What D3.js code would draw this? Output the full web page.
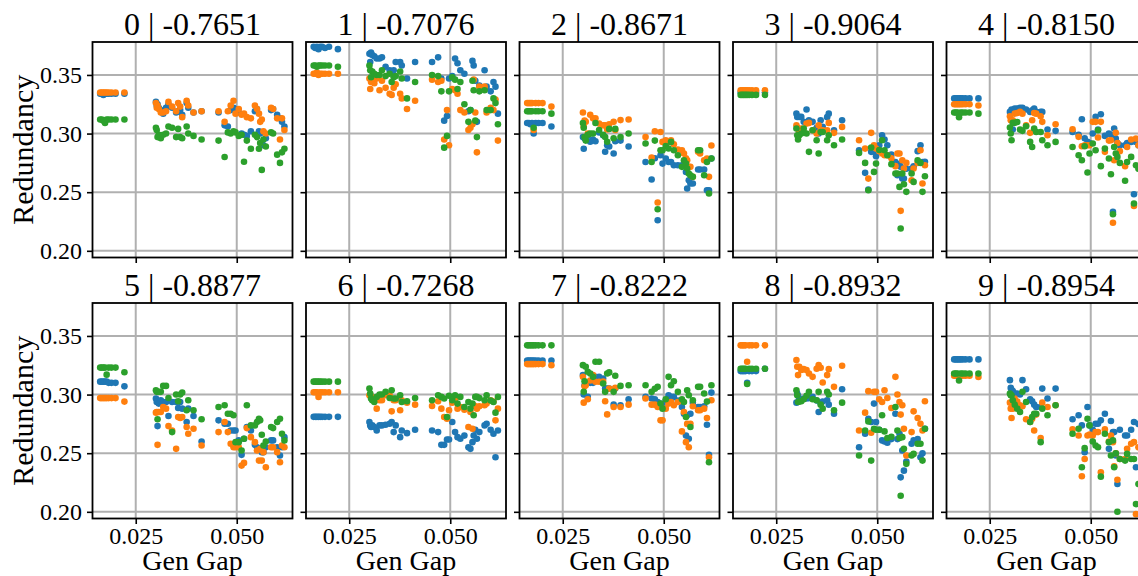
<!DOCTYPE html>
<html><head><meta charset="utf-8">
<script src="https://cdn.jsdelivr.net/npm/d3@7"></script>
<style>body{margin:0;background:#fff}svg{display:block}</style>
</head><body><div id="chart"></div>
<script>
// ---- data ----
const classes = [0,1,2,3,4,5,6,7,8,9];
const correlations = [-0.7651,-0.7076,-0.8671,-0.9064,-0.8150,-0.8877,-0.7268,-0.8222,-0.8932,-0.8954];
const xTicks = [0.025, 0.050];
const yTicks = [0.20, 0.25, 0.30, 0.35];
const seriesColors = ["#1f77b4","#ff7f0e","#2ca02c"];
// generalisation gap of each model (shared by all panels)
const genGap = [
 0.0162,0.0166,0.0170,0.0174,0.0178,0.0183,0.0190,0.0200,0.0222,
 0.0300,0.0302,0.0304,0.0307,0.0312,0.0318,0.0325,0.0331,0.0340,0.0350,0.0355,0.0360,0.0365,0.0376,0.0380,0.0393,0.0413,
 0.0455,0.0470,0.0478,0.0485,0.0492,0.0497,0.0505,0.0512,0.0518,0.0525,0.0535,0.0545,0.0550,0.0555,0.0558,0.0562,0.0566,0.0572,0.0585,0.0590,0.0600,0.0607,0.0612,0.0618];
// redundancy per class (rows) per model (cols)
const blueVals = [
 [.334,.334,.333,.334,.334,.334,.334,.334,.334, .327,.324,.325,.322,.320,.317,.322,.325,.322,.318,.319,.320,.316,.326,.322,.318,.319, .318,.307,.306,.320,.322,.321,.318,.300,.299,.298,.302,.319,.321,.302,.300,.292,.290,.296,.320,.321,.316,.313,.310,.306],
 [.374,.373,.374,.372,.374,.374,.373,.374,.372, .368,.361,.369,.367,.366,.364,.364,.365,.357,.354,.352,.354,.361,.361,.358,.347,.361, .361,.365,.347,.311,.315,.347,.349,.364,.360,.354,.351,.319,.320,.362,.358,.345,.310,.341,.354,.340,.336,.344,.340,.317],
 [.309,.309,.308,.309,.300,.309,.309,.309,.306, .297,.287,.296,.295,.298,.293,.295,.2935,.301,.2985,.2845,.290,.289,.283,.2935,.294,.289, .2758,.2608,.279,.2261,.2815,.2744,.2787,.2758,.2758,.273,.273,.273,.273,.2673,.2531,.2602,.2574,.2574,.2693,.2693,.2693,.2517,.2517,.2787],
 [.335,.335,.335,.335,.335,.335,.335,.335,.335, .317,.3142,.3043,.3142,.3142,.31,.3205,.3114,.31,.305,.300,.3114,.3057,.314,.317,.3028,.3114, .2858,.2665,.2523,.2844,.2844,.2807,.29,.2986,.295,.2901,.282,.2758,.2645,.274,.2716,.2616,.2616,.270,.2702,.272,.285,.2901,.2758,.276],
 [.330,.330,.330,.330,.330,.330,.330,.330,.330, .3185,.3185,.3205,.3034,.3213,.3213,.3219,.3219,.3205,.3185,.3199,.3213,.3185,.3185,.3185,.3034,.3023, .3014,.299,.3122,.296,.2929,.292,.300,.3142,.3034,.3165,.298,.300,.299,.2332,.3043,.2957,.292,.290,.290,.292,.2929,.2483,.2929,.290],
 [.311,.311,.311,.311,.311,.310,.310,.310,.307, .2966,.2937,.2731,.2923,.2951,.2937,.2937,.2817,.2937,.2937,.2886,.2937,.288,.2766,.288,.2817,.26, .278,.2751,.2751,.2694,.2694,.2694,.2609,.2486,.2623,.2723,.2694,.2571,.2551,.2537,.2537,.2509,.2509,.255,.2609,.2609,.2551,.248,.2551,.2637],
 [.281,.281,.281,.281,.281,.281,.281,.281,.281, .2766,.2737,.2723,.2737,.2723,.2694,.2737,.2737,.2743,.2751,.2766,.268,.2737,.2637,.2694,.2671,.27, .2694,.268,.2571,.2571,.2617,.2617,.2766,.268,.2637,.2623,.265,.2551,.2537,.2594,.2651,.27,.2623,.268,.2737,.2751,.27,.2666,.2466,.2694],
 [.329,.329,.329,.329,.329,.329,.329,.329,.329, .3166,.3,.308,.3094,.298,.31,.31,.3151,.3151,.3137,.3051,.3051,.3051,.2914,.3051,.2909,.296, .298,.2966,.296,.2937,.2923,.291,.295,.2994,.298,.298,.295,.2894,.2837,.2651,.2823,.2623,.2837,.293,.2894,.2894,.29,.2743,.2486,.3017],
 [.320,.320,.320,.320,.310,.320,.320,.320,.322, .2931,.3009,.299,.296,.2951,.2966,.2966,.297,.298,.295,.2851,.2923,.294,.2951,.2914,.2837,.3046, .2551,.2666,.2794,.2766,.2923,.2766,.27,.2609,.26,.2589,.262,.2837,.262,.2666,.2294,.2523,.2351,.2429,.258,.2609,.262,.2466,.25,.2709],
 [.330,.330,.330,.330,.330,.330,.330,.330,.330, .3123,.3057,.304,.3029,.3009,.3009,.3,.3123,.3046,.296,.2943,.2914,.2894,.2894,.3051,.2966,.3051, .2789,.2823,.2737,.2509,.2894,.2737,.27,.2751,.2751,.278,.2837,.2537,.2774,.268,.268,.248,.2237,.27,.2651,.2651,.27,.2766,.238,.275]
];
const orangeVals = [
 [.335,.335,.335,.335,.335,.335,.335,.335,.335, .326,.322,.324,.321,.318,.318,.319,.327,.323,.319,.326,.323,.314,.328,.324,.318,.319, .319,.310,.319,.324,.328,.317,.321,.316,.317,.314,.313,.324,.321,.317,.310,.312,.302,.300,.322,.321,.313,.295,.313,.303],
 [.351,.351,.352,.350,.351,.351,.351,.351,.351, .347,.338,.344,.345,.343,.347,.337,.345,.339,.334,.333,.339,.342,.334,.330,.321,.328, .346,.344,.345,.295,.320,.290,.338,.337,.334,.320,.318,.303,.305,.308,.346,.318,.284,.340,.340,.318,.322,.320,.329,.294],
 [.326,.326,.326,.326,.303,.326,.326,.326,.323, .318,.306,.311,.310,.300,.316,.313,.313,.3085,.307,.307,.3035,.308,.310,.303,.3115,.312, .297,.2795,.302,.2412,.3014,.2929,.2943,.2929,.2943,.2909,.2864,.2858,.283,.279,.2773,.2716,.2716,.2631,.2844,.283,.2773,.2787,.2631,.2898],
 [.337,.337,.337,.337,.337,.337,.337,.337,.337, .3071,.3043,.3043,.301,.3043,.3014,.3085,.3091,.3028,.3,.3071,.3028,.3028,.3028,.3091,.3006,.3057, .2943,.2872,.2616,.3006,.2901,.2872,.285,.283,.2815,.2815,.279,.2722,.283,.283,.2341,.2773,.2702,.275,.2602,.2702,.275,.2858,.2574,.273],
 [.325,.325,.325,.325,.325,.325,.325,.325,.324, .3148,.3114,.3114,.3114,.317,.3176,.3185,.317,.3071,.3006,.3114,.3176,.317,.3148,.31,.2986,.308, .3037,.2972,.2892,.2901,.2901,.2901,.310,.310,.2966,.310,.2844,.294,.2943,.2239,.2773,.3006,.292,.285,.2722,.2886,.2949,.2383,.2957,.290],
 [.297,.297,.297,.297,.297,.297,.297,.297,.294, .2846,.2851,.2571,.2851,.2851,.2894,.288,.2731,.2694,.2537,.2809,.28,.2809,.2723,.2666,.2709,.2566, .268,.2766,.268,.258,.2551,.2551,.2551,.2394,.2417,.2714,.2637,.2594,.2523,.2437,.2537,.2437,.2509,.238,.2551,.2551,.2509,.2423,.2566,.2551],
 [.302,.302,.302,.298,.302,.302,.302,.302,.302, .2994,.2994,.298,.296,.2951,.288,.2951,.2951,.2994,.2994,.2857,.2951,.2951,.2866,.2951,.2931,.2914, .2903,.2943,.288,.2809,.2794,.2866,.293,.296,.288,.2894,.287,.2723,.2851,.2709,.2909,.29,.288,.29,.2909,.2923,.2951,.294,.278,.288],
 [.326,.326,.326,.326,.326,.326,.326,.326,.325, .3151,.2931,.307,.308,.296,.312,.3166,.3109,.3109,.311,.2943,.2831,.3051,.2894,.3057,.2894,.2914, .2966,.2914,.2914,.2894,.278,.278,.288,.2923,.2937,.2909,.2937,.2686,.2851,.2594,.275,.2551,.2751,.29,.2866,.2866,.288,.28,.2466,.2951],
 [.342,.342,.342,.342,.328,.342,.342,.342,.342, .3294,.3237,.3166,.3237,.3209,.3217,.3209,.318,.3151,.322,.3251,.3229,.3103,.3166,.3217,.3066,.3246, .2694,.2846,.3029,.2674,.3023,.3023,.296,.2937,.3037,.2971,.2886,.3151,.3,.2937,.2829,.2909,.2709,.248,.268,.2857,.28,.2751,.2694,.2943],
 [.316,.316,.316,.316,.316,.316,.316,.316,.315, .2931,.288,.28,.288,.2966,.294,.2909,.29,.2789,.2766,.2794,.2694,.2829,.2629,.2931,.2894,.2909, .2703,.2651,.2303,.2451,.2651,.266,.265,.268,.268,.2337,.2703,.26,.2651,.2594,.2389,.25,.2274,.245,.2451,.2537,.258,.2594,.198,.255]
];
const greenVals = [
 [.312,.312,.311,.309,.312,.312,.312,.312,.312, .305,.303,.297,.299,.296,.299,.300,.306,.305,.297,.304,.297,.296,.306,.300,.298,.295, .294,.280,.301,.300,.302,.301,.298,.299,.276,.294,.287,.299,.297,.287,.292,.269,.295,.289,.301,.300,.282,.275,.284,.287],
 [.358,.358,.357,.358,.358,.358,.358,.358,.357, .358,.354,.348,.353,.351,.350,.350,.354,.349,.351,.344,.348,.349,.353,.347,.330,.344, .350,.349,.336,.288,.298,.336,.348,.346,.338,.344,.325,.310,.320,.345,.337,.311,.297,.336,.337,.320,.320,.330,.326,.308],
 [.319,.319,.319,.319,.305,.319,.319,.319,.317, .309,.305,.297,.294,.299,.300,.300,.309,.303,.299,.297,.293,.304,.296,.304,.297,.300, .2915,.2758,.294,.2355,.2858,.2858,.2893,.2873,.2929,.2858,.2815,.2716,.2773,.2744,.2702,.2659,.2645,.2631,.2858,.2858,.2645,.2758,.2489,.2787],
 [.333,.333,.333,.333,.333,.333,.333,.333,.333, .3043,.2986,.2949,.2986,.3,.3043,.300,.2844,.3028,.2943,.283,.3014,.3014,.2943,.2986,.2901,.2949, .2835,.275,.2517,.2881,.2673,.2744,.286,.2943,.2858,.2815,.2739,.2659,.2659,.2545,.219,.2659,.2568,.2503,.2659,.2588,.2773,.275,.2503,.2636],
 [.318,.318,.318,.314,.318,.318,.318,.318,.317, .3051,.3,.2943,.3091,.3091,.3099,.3034,.3023,.3063,.2929,.2886,.3043,.3014,.3014,.2943,.2901,.2929, .2886,.2815,.2773,.2892,.2668,.283,.2915,.2858,.3028,.2722,.2872,.2787,.2653,.2312,.2886,.283,.2801,.275,.2597,.2758,.2801,.2403,.273,.270],
 [.323,.323,.323,.323,.317,.323,.323,.323,.319, .3037,.3023,.2789,.3023,.3023,.3074,.3074,.2971,.268,.3,.2943,.3,.3017,.2866,.2951,.2866,.2789, .2894,.2909,.2837,.2837,.2823,.2594,.2594,.2523,.2623,.2909,.2737,.2737,.2766,.2794,.278,.2657,.2566,.26,.2723,.2714,.2766,.2794,.2666,.2609],
 [.311,.311,.311,.311,.311,.311,.311,.311,.311, .3051,.3009,.2966,.2951,.2937,.298,.3,.3,.3023,.2971,.3037,.2966,.2966,.2994,.2937,.2943,.2971, .2951,.2994,.298,.2966,.2809,.299,.2951,.2994,.2923,.298,.2894,.2937,.288,.2923,.2823,.298,.298,.297,.2951,.2994,.295,.2937,.2846,.298],
 [.342,.342,.342,.342,.342,.342,.342,.342,.342, .3251,.3023,.3114,.3237,.3194,.318,.3151,.328,.328,.3094,.3023,.318,.3189,.3023,.316,.3074,.308, .308,.3023,.305,.3066,.2923,.288,.296,.3151,.308,.3114,.3023,.296,.2937,.2809,.3037,.2994,.2723,.2951,.3066,.3066,.3009,.294,.2423,.308],
 [.322,.322,.322,.322,.309,.322,.322,.322,.322, .3037,.2994,.2937,.294,.2943,.296,.299,.3023,.296,.2951,.3023,.2914,.288,.3023,.3,.2866,.2931, .248,.2694,.2771,.2437,.2709,.27,.27,.2823,.2686,.2629,.264,.2894,.2694,.2629,.2137,.2637,.2537,.2409,.248,.2494,.258,.258,.2437,.2709],
 [.318,.318,.318,.312,.318,.318,.318,.318,.318, .3009,.2994,.2994,.2951,.2914,.288,.2851,.3023,.2937,.2766,.2809,.2837,.2837,.2594,.288,.2823,.2909, .2666,.2709,.238,.2543,.2794,.2737,.26,.2566,.2551,.23,.2666,.2594,.248,.2609,.238,.25,.2,.245,.2437,.2494,.2451,.2451,.2066,.2237]
];
const xLabel = "Gen Gap", yLabel = "Redundancy";

// ---- layout ----
const W = 1138, H = 576;
const left0 = 92.5, colStep = 213.5, pw = 200;
const rowTop = [42, 303], ph = 215.5;
const FONT = "'Liberation Serif','Times New Roman',serif";

const svg = d3.select("#chart").append("svg").attr("width", W).attr("height", H)
  .style("font-family", FONT);

const x = d3.scaleLinear().domain([0.0143, 0.0638]).range([0, pw]);
const y = d3.scaleLinear().domain([0.1943, 0.3781]).range([ph, 0]);

const defs = svg.append("defs");
defs.append("clipPath").attr("id","clip").append("rect").attr("width", pw).attr("height", ph);

classes.forEach((cls, i) => {
  const row = Math.floor(i / 5), col = i % 5;
  const g = svg.append("g").attr("transform", `translate(${left0 + col*colStep},${rowTop[row]})`);

  // grid
  g.append("g").selectAll("line").data(xTicks).join("line")
    .attr("x1", d => x(d)).attr("x2", d => x(d)).attr("y1", 0).attr("y2", ph)
    .attr("stroke", "#b0b0b0").attr("stroke-width", 2);
  g.append("g").selectAll("line").data(yTicks).join("line")
    .attr("y1", d => y(d)).attr("y2", d => y(d)).attr("x1", 0).attr("x2", pw)
    .attr("stroke", "#b0b0b0").attr("stroke-width", 2);

  // points
  const pts = g.append("g").attr("clip-path", "url(#clip)");
  [blueVals, orangeVals, greenVals].forEach((vals, s) => {
    pts.append("g").selectAll("circle").data(vals[i]).join("circle")
      .attr("cx", (d, k) => x(genGap[k])).attr("cy", d => y(d)).attr("r", 3.3)
      .attr("fill", seriesColors[s]);
  });

  // axes
  const ya = d3.axisLeft(y).tickValues(yTicks).tickSize(5.5).tickPadding(5)
    .tickFormat(col === 0 ? d3.format(".2f") : () => "");
  const yg = g.append("g").call(ya);
  const xa = d3.axisBottom(x).tickValues(xTicks).tickSize(5.5).tickPadding(3)
    .tickFormat(row === 1 ? d3.format(".3f") : () => "");
  const xg = g.append("g").attr("transform", `translate(0,${ph})`).call(xa);
  [yg, xg].forEach(a => {
    a.select(".domain").remove();
    a.selectAll(".tick line").attr("stroke", "#000").attr("stroke-width", 1.6);
    a.selectAll(".tick text").attr("fill", "#000").style("font-size", "24px").style("font-family", FONT);
  });

  // frame
  g.append("rect").attr("width", pw).attr("height", ph).attr("fill", "none")
    .attr("stroke", "#000").attr("stroke-width", 1.8);

  // title
  g.append("text").attr("x", pw/2).attr("y", -7).attr("text-anchor", "middle")
    .style("font-size", "32px").attr("fill", "#000")
    .text(`${cls} | ${correlations[i].toFixed(4)}`);

  if (col === 0) {
    g.append("text").attr("transform", `translate(${33 - left0},${ph/2}) rotate(-90)`)
      .attr("text-anchor", "middle").style("font-size", "30px").attr("fill", "#000").text(yLabel);
  }
  if (row === 1) {
    g.append("text").attr("x", pw/2).attr("y", ph + 51.5).attr("text-anchor", "middle")
      .style("font-size", "28px").attr("fill", "#000").text(xLabel);
  }
});
</script></body></html>
